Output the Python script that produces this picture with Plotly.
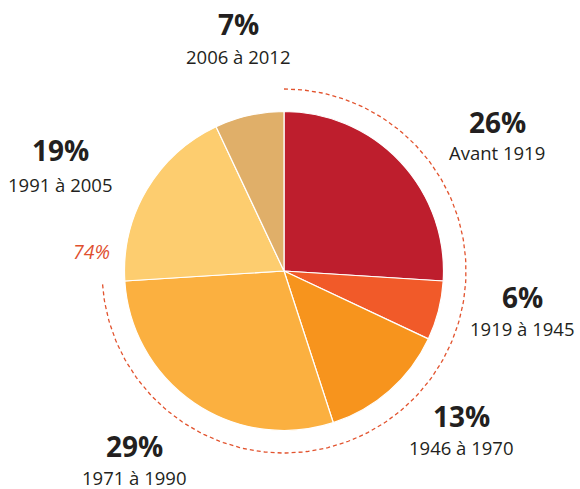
import numpy as np
import plotly.graph_objects as go

categories = ["Avant 1919", "1919 à 1945", "1946 à 1970", "1971 à 1990", "1991 à 2005", "2006 à 2012"]
values = [26, 6, 13, 29, 19, 7]
pct_labels = ["26%", "6%", "13%", "29%", "19%", "7%"]
colors = ["#BE1E2D", "#F15A29", "#F7941D", "#FBB040", "#FDCD6F", "#E0AF69"]
highlight_count = 4  # first four periods -> 74%

W, H = 580, 489
cx, cy, r = 284, 271, 159.5

fig = go.Figure()
fig.add_trace(go.Pie(
    values=values, labels=categories, sort=False, direction="clockwise", rotation=0,
    marker=dict(colors=colors, line=dict(color="white", width=1.2)),
    textinfo="none", hoverinfo="label+percent", showlegend=False,
    domain=dict(x=[(cx - r) / W, (cx + r) / W], y=[1 - (cy + r) / H, 1 - (cy - r) / H]),
))

# dashed arc covering the first four slices
frac = sum(values[:highlight_count]) / sum(values)
ar = 182
theta = np.linspace(0, 2 * np.pi * frac, 200)
fig.add_trace(go.Scatter(
    x=cx + ar * np.sin(theta), y=cy - ar * np.cos(theta), mode="lines",
    line=dict(color="#E2532E", width=1.3, dash="4px,3px"), hoverinfo="skip", showlegend=False,
))

label_pos = [(497, 122, 152), (522, 297, 328), (461, 416, 447), (134, 446, 477), (60, 150, 184), (238, 24, 56)]
font = "Open Sans"
for (x, yp, yl), p, c in zip(label_pos, pct_labels, categories):
    fig.add_annotation(x=x, y=yp, text=f"<b>{p}</b>", showarrow=False,
                       font=dict(family=font, size=28, color="#231F20"), xanchor="center", yanchor="middle")
    fig.add_annotation(x=x, y=yl, text=c, showarrow=False,
                       font=dict(family=font, size=18.5, color="#231F20"), xanchor="center", yanchor="middle")

fig.add_annotation(x=91, y=251, text=f"<i>{round(frac * 100)}%</i>", showarrow=False,
                   font=dict(family=font, size=19.5, color="#E0502F"), xanchor="center", yanchor="middle")

fig.update_layout(
    width=W, height=H, margin=dict(l=0, r=0, t=0, b=0),
    paper_bgcolor="white", plot_bgcolor="white",
    xaxis=dict(range=[0, W], visible=False, fixedrange=True),
    yaxis=dict(range=[H, 0], visible=False, fixedrange=True),
)
fig.write_html("out.html", config={"displayModeBar": False},
               post_script="document.body.style.margin='0';document.body.style.overflow='hidden';")
